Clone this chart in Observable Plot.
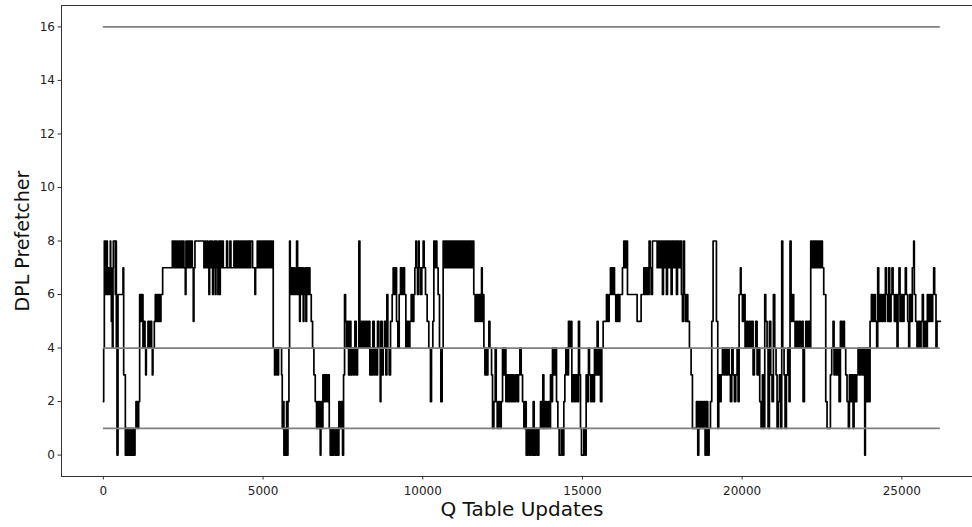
<!DOCTYPE html>
<html>
<head>
<meta charset="utf-8">
<script src="https://cdn.jsdelivr.net/npm/d3@7"></script>
<script src="https://cdn.jsdelivr.net/npm/@observablehq/plot@0.6"></script>
<style>
  html, body { margin: 0; padding: 0; background: #fff; overflow: hidden; }
  #chart { width: 972px; height: 527px; }
</style>
</head>
<body>
<div id="chart"></div>
<script>
// [Q table update, DPL prefetcher degree] change points (step-after)
const dplSteps = [
  [0,2],[10,4],[30,8],[50,6],[62,8],[72,7],[83,6],[104,7],[114,8],[124,6],[145,7],[166,6],[187,7],[198,6],[218,8],[229,7],[250,5],[260,6],[281,4],[302,7],[312,8],[375,6],[385,8],[406,4],[427,0],[458,6],[615,7],[636,3],[688,0],[730,1],[750,0],[782,1],[813,0],[844,1],[876,0],[917,1],[938,0],[990,1],[1021,2],[1073,1],[1105,2],[1136,6],[1157,5],[1178,6],[1199,5],[1220,6],[1240,4],[1272,5],[1303,4],[1324,3],[1345,4],[1397,5],[1439,4],[1480,5],[1511,4],[1532,3],[1553,4],[1595,5],[1626,6],[1647,5],[1678,6],[1710,5],[1741,6],[1772,5],[1803,6],[1856,7],
  [2158,8],[2211,7],[2242,8],[2273,7],[2304,8],[2336,7],[2367,8],[2398,7],[2430,8],[2461,7],[2492,8],[2523,7],[2565,6],[2586,8],[2627,7],[2659,8],[2700,7],[2732,8],[2784,7],[2815,5],[2836,7],[2867,8],[3149,7],[3180,8],[3211,7],[3243,8],[3274,7],[3305,6],[3326,8],[3357,7],[3389,8],[3420,6],[3441,7],[3472,8],[3504,6],[3525,8],[3556,7],[3587,6],[3608,8],[3639,6],[3660,8],[3692,7],[3733,8],[3754,7],[3859,8],[3890,7],[3963,8],[3994,7],[4088,8],[4119,7],[4150,8],[4192,7],[4213,8],[4255,7],[4286,8],[4317,7],[4349,8],[4380,7],[4411,8],[4442,7],[4474,8],[4505,7],[4536,8],[4568,7],[4609,8],[4672,7],[4745,6],[4766,7],[4818,8],[4849,7],[4891,8],[4933,7],[4975,8],[5016,7],[5058,8],[5100,7],[5131,8],[5183,7],[5214,8],[5266,7],[5297,8],[5318,4],[5360,3],[5402,4],[5443,3],[5485,4],
  [5580,3],[5601,1],[5632,2],[5653,0],[5685,1],[5705,0],[5737,2],[5758,0],[5779,2],[5810,4],[5831,8],[5851,6],[5872,7],[5893,6],[5924,7],[5945,6],[5977,7],[5998,6],[6050,8],[6081,6],[6112,7],[6144,5],[6164,7],[6196,6],[6227,7],[6258,5],[6279,6],[6310,7],[6342,5],[6363,7],[6394,6],[6425,7],[6467,6],[6509,5],[6550,4],[6592,3],[6634,2],[6675,1],[6717,2],[6759,1],[6790,0],[6811,2],[6853,1],[6874,3],[6915,2],[6957,3],[6999,2],[7040,3],[7072,1],[7103,0],[7145,1],[7176,0],[7218,1],[7259,0],[7301,1],[7332,0],[7374,2],[7416,1],[7458,2],[7489,0],[7520,3],[7552,6],[7583,5],[7614,4],[7645,5],[7677,3],[7718,5],[7750,3],[7791,4],[7833,3],[7875,5],[7917,3],[7958,4],
  [8000,8],[8031,4],[8073,5],[8104,4],[8146,5],[8177,4],[8219,5],[8261,4],[8303,5],[8344,3],[8376,4],[8407,3],[8438,5],[8480,3],[8511,4],[8553,3],[8584,5],[8626,4],[8668,2],[8689,5],[8730,3],[8762,4],[8803,5],[8845,3],[8876,6],[8907,4],[8949,3],[8991,5],[9043,6],[9074,7],[9116,6],[9147,7],[9179,5],[9220,4],[9262,6],[9304,7],[9345,6],[9387,7],[9429,6],[9471,4],[9512,5],[9554,4],[9596,5],[9638,6],[9679,5],[9721,6],[9752,7],[9784,8],[9805,7],[9836,6],[9867,8],[9888,7],[9930,6],[9971,7],[10013,8],[10044,7],[10086,6],[10138,5],[10190,4],[10242,2],[10274,4],[10315,5],[10347,8],[10378,7],[10409,8],[10441,7],[10482,6],[10524,4],[10566,2],[10608,4],[10639,8],[10680,7],[10712,8],[10743,7],[10774,8],[10806,7],[10837,8],[10868,7],[10900,8],[10931,7],[10962,8],[10994,7],[11025,8],[11056,7],[11087,8],[11119,7],[11150,8],[11181,7],[11223,8],[11265,7],[11307,8],[11348,7],[11390,8],[11432,7],[11473,8],[11515,7],[11557,8],[11598,6],[11640,5],[11682,6],[11723,5],[11765,6],
  [11810,5],[11841,7],[11862,5],[11893,6],[11914,4],[11946,3],[11977,4],[12008,3],[12039,4],[12071,5],[12102,4],[12154,3],[12185,1],[12227,2],[12269,4],[12300,2],[12331,1],[12373,2],[12415,1],[12457,2],[12498,4],[12540,3],[12571,4],[12603,2],[12644,3],[12686,2],[12728,3],[12769,2],[12811,3],[12853,2],[12905,3],[12957,2],[12999,3],[13041,4],[13082,3],[13124,2],[13166,1],[13208,2],[13239,0],[13291,1],[13333,0],[13374,1],[13416,0],[13458,2],[13489,0],[13541,1],[13583,0],[13635,1],[13687,2],[13729,1],[13760,3],[13791,1],[13833,2],[13875,1],[13917,2],[13958,1],[14000,3],[14031,2],[14063,4],[14105,3],[14146,4],[14188,2],[14230,1],[14271,0],[14334,1],[14376,0],[14417,2],[14449,3],[14480,4],[14522,3],[14563,5],[14605,4],[14647,5],[14668,2],[14710,3],[14751,2],[14793,3],[14835,2],[14876,5],[14908,3],[14939,1],[14970,0],[15043,1],[15085,0],[15116,3],[15158,2],[15189,4],[15220,3],[15262,2],[15304,3],[15346,2],[15377,4],[15419,3],[15460,5],[15492,3],[15533,4],[15565,2],[15607,4],[15648,5],[15752,6],[15794,5],[15836,6],[15877,7],[15919,6],[15961,7],[16003,6],[16044,5],[16086,6],[16128,5],[16170,6],[16253,7],[16295,8],[16337,7],[16378,8],[16410,6],[16712,5],[16837,6],[16921,7],[16962,6],[17004,7],[17046,6],[17087,8],[17119,7],[17150,6],[17192,8],[17338,7],[17369,8],[17421,7],[17463,8],[17505,6],[17536,8],
  [17547,7],[17589,8],[17631,6],[17662,8],[17704,7],[17735,8],[17777,6],[17808,8],[17860,7],[17902,8],[17944,6],[17975,8],[18017,7],[18058,8],[18100,6],[18131,5],[18163,8],[18194,6],[18225,5],[18267,6],[18298,5],[18350,4],[18402,3],[18444,1],[18569,2],[18611,0],[18642,2],[18684,1],[18715,2],[18757,1],[18799,2],[18840,0],[18882,2],[18924,0],[18966,1],[19008,2],[19049,5],[19091,8],[19195,5],[19237,1],[19268,3],[19300,2],[19341,3],[19383,4],[19425,3],[19466,4],[19508,3],[19550,4],[19592,3],[19633,2],[19675,4],[19717,3],[19758,2],[19800,3],[19842,4],[19873,2],[19905,6],[19946,7],[19967,6],[20009,5],[20051,6],[20092,4],[20134,5],[20176,4],[20217,5],[20259,4],[20301,5],[20343,3],[20384,4],[20426,5],[20468,3],[20510,4],[20551,2],[20593,1],[20635,3],[20676,1],[20708,6],[20739,5],[20781,4],[20812,1],[20854,5],[20895,3],[20937,2],[20979,6],[21021,4],[21062,3],[21094,1],[21135,2],[21167,3],[21208,1],[21240,8],[21271,4],[21313,3],[21344,1],[21386,3],[21427,4],[21469,2],[21500,8],[21532,5],[21573,6],[21615,5],[21657,4],[21699,5],[21740,4],[21782,5],[21824,4],
  [21877,5],[21908,2],[21950,4],[21992,5],[22034,4],[22075,5],[22117,4],[22148,8],[22190,7],[22221,8],[22263,7],[22305,8],[22347,7],[22388,8],[22430,7],[22472,8],[22513,7],[22555,6],[22618,2],[22659,1],[22764,3],[22805,4],[22847,5],[22878,3],[22910,4],[22951,3],[22993,4],[23035,2],[23077,5],[23118,4],[23160,5],[23202,4],[23243,3],[23285,2],[23327,1],[23358,3],[23400,2],[23442,3],[23473,1],[23504,3],[23546,2],[23588,3],[23629,4],[23671,3],[23713,4],[23755,3],[23796,4],[23838,0],[23859,4],[23901,2],[23932,4],[23974,2],[24005,5],[24047,6],[24088,5],[24130,6],[24172,5],[24213,4],[24245,7],[24276,5],[24328,6],[24370,5],[24411,6],[24453,5],[24485,7],[24516,6],[24558,5],[24589,7],[24620,5],[24662,6],[24693,7],[24725,6],[24766,5],[24808,6],[24850,4],[24881,6],[24912,7],[24944,5],[24985,6],[25027,5],[25069,6],[25110,7],[25142,6],[25183,5],[25215,4],[25246,6],[25288,5],[25329,7],[25371,8],[25392,6],[25434,5],[25475,4],[25517,5],[25559,4],[25601,5],[25642,6],[25674,4],[25715,5],[25757,4],[25799,6],[25840,5],[25882,6],[25924,5],[25966,6],[25997,7],[26028,6],[26070,4],[26101,5],[26205,5]
];
const updates = dplSteps.map(d => d[0]);
const dplPrefetcher = dplSteps.map(d => d[1]);
const thresholds = [16, 4, 1];
const xTicks = [0, 5000, 10000, 15000, 20000, 25000];
const yTicks = [0, 2, 4, 6, 8, 10, 12, 14, 16];
const xLabel = "Q Table Updates";
const yLabel = "DPL Prefetcher";

const series = updates.map((u, i) => ({update: u, degree: dplPrefetcher[i]}));
const lastUpdate = updates[updates.length - 1];
const thresholdRows = thresholds.map(t => ({t, x1: 0, x2: lastUpdate}));

const chart = Plot.plot({
  width: 972,
  height: 527,
  marginLeft: 61,
  marginRight: -10,
  marginTop: 5,
  marginBottom: 51,
  style: {fontFamily: "'DejaVu Sans', sans-serif", fontSize: "12px", color: "#222", background: "#fff"},
  x: {domain: [-1311, 27526]},
  y: {domain: [-0.8, 16.8]},
  marks: [
    Plot.frame({stroke: "#333", strokeWidth: 1}),
    Plot.line(series, {x: "update", y: "degree", curve: "step-after", stroke: "#000", strokeWidth: 1.7}),
    Plot.ruleY(thresholdRows, {y: "t", x1: "x1", x2: "x2", stroke: "#7f7f7f", strokeWidth: 1.8}),
    Plot.axisX({ticks: xTicks, tickFormat: d => String(d), tickSize: 3.5, tickPadding: 6, fontSize: 12, label: null, stroke: "#333"}),
    Plot.axisY({ticks: yTicks, tickFormat: d => String(d), tickSize: 3.5, tickPadding: 3, fontSize: 12, label: null, stroke: "#333"}),
    Plot.text([xLabel], {frameAnchor: "bottom", dy: 39, fontSize: 20, textAnchor: "middle", fill: "#111"}),
    Plot.text([yLabel], {frameAnchor: "left", dx: -39, rotate: -90, fontSize: 19, textAnchor: "middle", fill: "#111"})
  ]
});
document.getElementById("chart").appendChild(chart);
</script>
</body>
</html>
